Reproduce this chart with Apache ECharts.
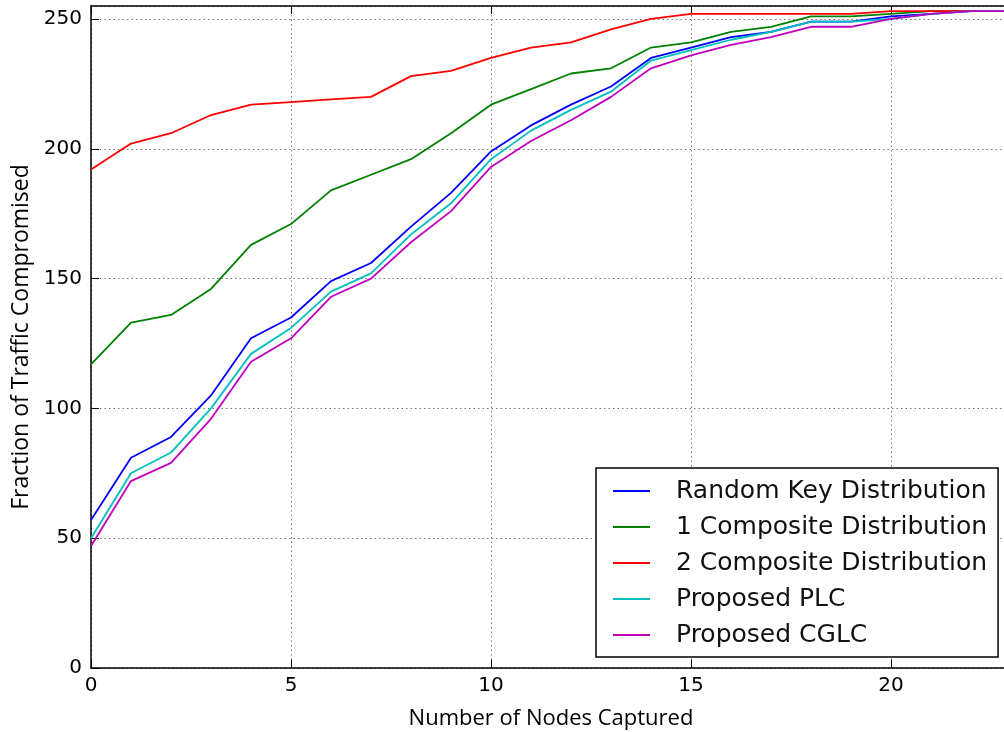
<!DOCTYPE html>
<html>
<head>
<meta charset="utf-8">
<script src="https://cdn.jsdelivr.net/npm/echarts@6/dist/echarts.min.js"></script>
<style>
  html, body { margin: 0; padding: 0; background: #fff; }
  #chart { width: 1004px; height: 732px; }
</style>
</head>
<body>
<div id="chart"></div>
<script>
// Number of captured nodes (x) and traffic compromised for each key scheme
const nodesCaptured = [0, 1, 2, 3, 4, 5, 6, 7, 8, 9, 10, 11, 12, 13, 14, 15, 16, 17, 18, 19, 20, 21, 22, 23];

const randomKey    = [57, 81, 89, 105, 127, 135, 149, 156, 170, 183, 199, 209, 217, 224, 235, 239, 243, 245, 249, 249, 251, 252, 253, 253];
const oneComposite = [117, 133, 136, 146, 163, 171, 184, 190, 196, 206, 217, 223, 229, 231, 239, 241, 245, 247, 251, 251, 252, 253, 253, 253];
const twoComposite = [192, 202, 206, 213, 217, 218, 219, 220, 228, 230, 235, 239, 241, 246, 250, 252, 252, 252, 252, 252, 253, 253, 253, 253];
const proposedPLC  = [50, 75, 83, 100, 121, 131, 145, 152, 167, 179, 196, 207, 215, 222, 234, 238, 242, 245, 249, 249, 250, 252, 253, 253];
const proposedCGLC = [47, 72, 79, 96, 118, 127, 143, 150, 164, 176, 193, 203, 211, 220, 231, 236, 240, 243, 247, 247, 250, 252, 253, 253];

const seriesNames = [
  'Random Key Distribution',
  '1 Composite Distribution',
  '2 Composite Distribution',
  'Proposed PLC',
  'Proposed CGLC'
];
const seriesValues = [randomKey, oneComposite, twoComposite, proposedPLC, proposedCGLC];
const seriesColors = ['#0000ff', '#008000', '#ff0000', '#00bfbf', '#bf00bf'];

const xTitle = 'Number of Nodes Captured';
const yTitle = 'Fraction of Traffic Compromised';

const tickFont = 'DejaVu Sans';
const titleFont = 'Open Sans';

const chart = echarts.init(document.getElementById('chart'), null, { renderer: 'canvas' });

const pairs = vals => nodesCaptured.map((x, i) => [x, vals[i]]);

const gridLine = { show: true, lineStyle: { color: '#777', type: [1.5, 3], width: 1 } };
const axisLineStyle = { show: true, lineStyle: { color: '#000', width: 1.5 } };
const innerTick = { show: true, inside: true, length: 8, lineStyle: { color: '#000', width: 1 } };

chart.setOption({
  animation: false,
  backgroundColor: '#fff',
  grid: { left: 91, top: 6, width: 920, bottom: 64, containLabel: false, outerBoundsMode: 'none' },
  xAxis: [
    {
      type: 'value', min: 0, max: 23, interval: 5, position: 'bottom',
      axisLine: axisLineStyle, axisTick: innerTick,
      axisLabel: { fontFamily: tickFont, fontSize: 20, color: '#000', margin: 8, showMaxLabel: false },
      splitLine: gridLine,
      name: xTitle, nameLocation: 'middle', nameGap: 40,
      nameTextStyle: { fontFamily: titleFont, fontSize: 22, color: '#000' }
    },
    {
      type: 'value', min: 0, max: 23, interval: 5, position: 'top',
      axisLine: axisLineStyle, axisTick: innerTick,
      axisLabel: { show: false }, splitLine: { show: false }
    }
  ],
  yAxis: {
    type: 'value', min: 0, max: 255, interval: 50,
    axisLine: axisLineStyle, axisTick: innerTick,
    axisLabel: { fontFamily: tickFont, fontSize: 20, color: '#000', margin: 9, showMaxLabel: false },
    splitLine: gridLine,
    name: yTitle, nameLocation: 'middle', nameGap: 57,
    nameTextStyle: { fontFamily: titleFont, fontSize: 23, color: '#000' }
  },
  legend: {
    orient: 'vertical', left: 596, top: 468,
    padding: [8, 11, 7, 17],
    icon: 'rect',
    itemWidth: 37, itemHeight: 2, itemGap: 6,
    backgroundColor: '#fff', borderColor: '#000', borderWidth: 1.5, borderRadius: 0,
    textStyle: { fontFamily: tickFont, fontSize: 25, color: '#111', lineHeight: 30, padding: [0, 0, 0, 21] },
    data: seriesNames
  },
  series: seriesNames.map((name, i) => ({
    name,
    type: 'line',
    data: pairs(seriesValues[i]),
    symbol: 'none',
    clip: true,
    lineStyle: { color: seriesColors[i], width: 1.8 },
    itemStyle: { color: seriesColors[i] }
  }))
});
</script>
</body>
</html>
